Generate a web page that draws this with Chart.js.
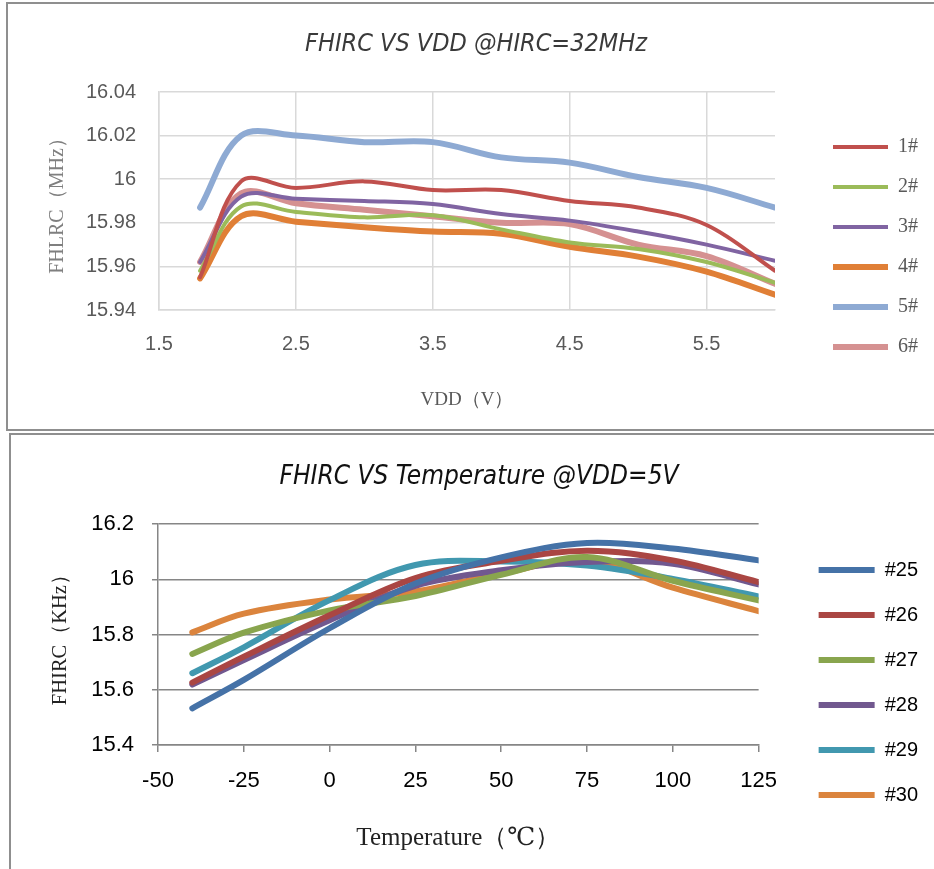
<!DOCTYPE html>
<html>
<head>
<meta charset="utf-8">
<script src="https://cdn.jsdelivr.net/npm/chart.js@4"></script>
<style>
  html, body { margin: 0; padding: 0; background: #fff; overflow: hidden; width: 934px; height: 869px; }
  .frame { position: absolute; border: 2px solid #8f8f8f; box-sizing: border-box; }
  canvas { position: absolute; }
</style>
</head>
<body>
<div class="frame" style="left:6px;top:2px;width:1000px;height:429px;"></div>
<div class="frame" style="left:9px;top:433px;width:1000px;height:500px;"></div>
<canvas id="vddChart" width="904" height="430" style="left:24px;top:0px;"></canvas>
<canvas id="tempChart" width="898" height="435" style="left:30px;top:434px;"></canvas>
<script>
// --- chart 1: FHIRC vs VDD ---
const vdd = [1.8, 2.1, 2.5, 3.0, 3.5, 4.0, 4.5, 5.0, 5.5, 6.0];
const vddTicks = [1.5, 2.5, 3.5, 4.5, 5.5];
const mhzTicks = [15.94, 15.96, 15.98, 16.0, 16.02, 16.04];
const chip1 = [15.955, 15.999, 15.996, 15.999, 15.995, 15.995, 15.990, 15.987, 15.979, 15.958];
const chip2 = [15.958, 15.9875, 15.985, 15.9825, 15.9835, 15.977, 15.971, 15.968, 15.962, 15.9525];
const chip3 = [15.962, 15.992, 15.991, 15.990, 15.9886, 15.984, 15.981, 15.976, 15.970, 15.9626];
const chip4 = [15.9545, 15.983, 15.9805, 15.978, 15.976, 15.975, 15.969, 15.9645, 15.9576, 15.947];
const chip5 = [15.987, 16.020, 16.020, 16.017, 16.017, 16.010, 16.0076, 16.001, 15.996, 15.987];
const chip6 = [15.962, 15.9935, 15.989, 15.986, 15.983, 15.980, 15.9794, 15.970, 15.9647, 15.952];

// --- chart 2: FHIRC vs temperature ---
const temps = [-40, -25, 0, 25, 50, 75, 100, 125];
const tempTicks = [-50, -25, 0, 25, 50, 75, 100, 125];
const khzTicks = [15.4, 15.6, 15.8, 16.0, 16.2];
const n25 = [15.533, 15.636, 15.823, 15.985, 16.080, 16.132, 16.112, 16.069];
const n26 = [15.626, 15.720, 15.870, 16.005, 16.067, 16.104, 16.069, 15.990];
const n27 = [15.730, 15.807, 15.888, 15.940, 16.017, 16.081, 15.995, 15.924];
const n28 = [15.619, 15.708, 15.852, 15.977, 16.033, 16.063, 16.057, 15.982];
const n29 = [15.660, 15.754, 15.925, 16.052, 16.065, 16.050, 16.002, 15.938];
const n30 = [15.808, 15.876, 15.927, 15.956, 16.021, 16.070, 15.970, 15.885];

const fmt = v => String(Math.round(v * 100) / 100);
const pts = (xs, ys) => xs.map((x, i) => ({ x: x, y: ys[i] }));

function line(label, xs, ys, color, width) {
    return {
        label: label,
        data: pts(xs, ys),
        borderColor: color,
        backgroundColor: color,
        borderWidth: width,
        borderCapStyle: 'round',
        borderJoinStyle: 'round',
        pointRadius: 0,
        tension: 0.35,
        fill: false,
    };
}

const serif = '"Liberation Serif", "DejaVu Serif", serif';
const sans = '"Liberation Sans", Arial, sans-serif';
const narrow = '"Liberation Sans Narrow", "DejaVu Sans Condensed", sans-serif';

new Chart(document.getElementById('vddChart'), {
    type: 'line',
    data: {
        datasets: [
            line('1#', vdd, chip1, '#c0504d', 4),
            line('2#', vdd, chip2, '#9bbb59', 4),
            line('3#', vdd, chip3, '#8064a2', 4),
            line('4#', vdd, chip4, '#e07f36', 6),
            line('5#', vdd, chip5, '#8eaad3', 6),
            line('6#', vdd, chip6, '#d59191', 6),
        ],
    },
    options: {
        responsive: false,
        animation: false,
        layout: { padding: 0 },
        plugins: {
            title: {
                display: true,
                text: 'FHIRC VS VDD @HIRC=32MHz',
                color: '#3a3a3a',
                font: { family: narrow, size: 25, style: 'italic', weight: 'normal' },
                padding: { top: 29, bottom: 33 },
            },
            legend: {
                position: 'right',
                title: { display: true, text: '', font: { size: 10 }, padding: { top: 52, bottom: 0 } },
                labels: {
                    usePointStyle: true,
                    pointStyle: 'line',
                    pointStyleWidth: 55,
                    padding: 20,
                    color: '#595959',
                    font: { family: serif, size: 20 },
                },
            },
            tooltip: { enabled: false },
        },
        scales: {
            x: {
                type: 'linear',
                min: 1.5,
                max: 6,
                afterBuildTicks: s => { s.ticks = vddTicks.map(v => ({ value: v })); },
                afterFit: s => { s.height = 120; },
                grid: { color: '#d9d9d9', lineWidth: 1.5, drawTicks: false },
                border: { color: '#d9d9d9', width: 1.5 },
                ticks: { color: '#595959', padding: 22, font: { family: sans, size: 20 }, callback: v => String(v) },
                title: { display: true, text: 'VDD（V）', color: '#595959', font: { family: serif, size: 19 }, padding: { top: 0, bottom: 19 } },
            },
            y: {
                min: 15.94,
                max: 16.04,
                afterBuildTicks: s => { s.ticks = mhzTicks.map(v => ({ value: v })); },
                afterFit: s => { s.width = 135; },
                grid: { color: '#d9d9d9', lineWidth: 1.5, drawTicks: false },
                border: { color: '#d9d9d9', width: 1.5 },
                ticks: { color: '#595959', padding: 23, font: { family: sans, size: 20 }, callback: fmt },
                title: { display: true, text: 'FHLRC（MHz）', color: '#7f7f7f', font: { family: serif, size: 20 }, padding: { top: 22, bottom: 0 } },
            },
            gap: {
                type: 'linear',
                position: 'right',
                ticks: { display: false },
                grid: { display: false },
                border: { display: false },
                afterFit: s => { s.width = 38; },
            },
        },
    },
});

new Chart(document.getElementById('tempChart'), {
    type: 'line',
    data: {
        datasets: [
            line('#25', temps, n25, '#4572a7', 6),
            line('#26', temps, n26, '#aa4643', 6),
            line('#27', temps, n27, '#89a54e', 6),
            line('#28', temps, n28, '#71588f', 6),
            line('#29', temps, n29, '#4198af', 6),
            line('#30', temps, n30, '#db843d', 6),
        ],
    },
    options: {
        responsive: false,
        animation: false,
        layout: { padding: 0 },
        plugins: {
            title: {
                display: true,
                text: 'FHIRC VS Temperature @VDD=5V',
                color: '#111',
                font: { family: narrow, size: 26, style: 'italic', weight: 'normal' },
                padding: { top: 28, bottom: 31 },
            },
            legend: {
                position: 'right',
                title: { display: true, text: '', font: { size: 10 }, padding: { top: 50, bottom: 0 } },
                labels: {
                    usePointStyle: true,
                    pointStyle: 'line',
                    pointStyleWidth: 56,
                    padding: 25,
                    color: '#000',
                    font: { family: sans, size: 20 },
                },
            },
            tooltip: { enabled: false },
        },
        scales: {
            x: {
                type: 'linear',
                min: -50,
                max: 125,
                afterBuildTicks: s => { s.ticks = tempTicks.map(v => ({ value: v })); },
                afterFit: s => { s.height = 124; },
                grid: { color: '#868686', lineWidth: 1.5, drawOnChartArea: false, drawTicks: true, tickLength: 7 },
                border: { color: '#868686', width: 1.5 },
                ticks: { color: '#000', padding: 16, font: { family: sans, size: 22 } },
                title: { display: true, text: 'Temperature（℃）', color: '#222', font: { family: serif, size: 25 }, padding: { top: 0, bottom: 16 } },
            },
            y: {
                min: 15.4,
                max: 16.2,
                afterBuildTicks: s => { s.ticks = khzTicks.map(v => ({ value: v })); },
                afterFit: s => { s.width = 128; },
                grid: { color: '#868686', lineWidth: 1.5, drawTicks: true, tickLength: 6 },
                border: { color: '#868686', width: 1.5 },
                ticks: { color: '#000', padding: 18, font: { family: sans, size: 22 }, callback: fmt },
                title: { display: true, text: 'FHIRC（KHz）', color: '#222', font: { family: serif, size: 20.5 }, padding: { top: 18, bottom: 0 } },
            },
            gap: {
                type: 'linear',
                position: 'right',
                ticks: { display: false },
                grid: { display: false },
                border: { display: false },
                afterFit: s => { s.width = 35; },
            },
        },
    },
});
</script>
</body>
</html>
